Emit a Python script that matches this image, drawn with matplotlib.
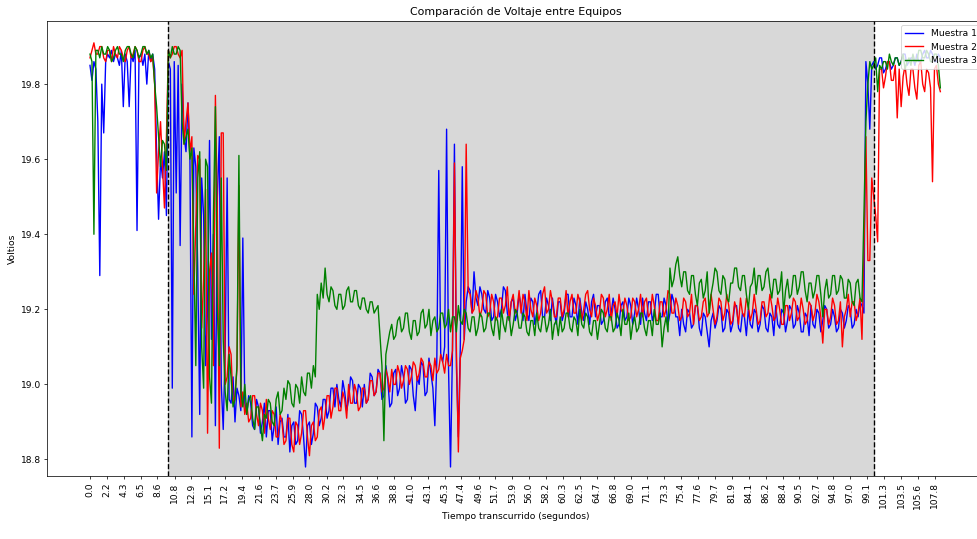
import numpy as np
from matplotlib import pyplot as plt

# muestras cada 0.25 s, una fila = 5 s
dt = 0.25

muestra1 = [
    19.85, 19.81, 19.86, 19.84, 19.70, 19.29, 19.80, 19.67, 19.86, 19.88, 19.87, 19.89, 19.86, 19.88, 19.87, 19.85, 19.89, 19.74, 19.88, 19.86,
    19.74, 19.88, 19.86, 19.89, 19.41, 19.87, 19.88, 19.85, 19.88, 19.80, 19.89, 19.86, 19.88, 19.84, 19.62, 19.44, 19.60, 19.55, 19.62, 19.45,
    19.86, 19.84, 18.99, 19.86, 19.51, 19.85, 19.37, 19.80, 19.66, 19.62, 19.75, 19.60, 18.86, 19.63, 19.58, 19.30, 18.92, 19.55, 19.45, 19.05,
    19.20, 19.65, 19.12, 19.40, 18.89, 19.50, 19.66, 19.00, 18.88, 19.10, 19.55, 18.96, 18.95, 19.02, 18.90, 18.99, 18.97, 18.93, 19.39, 18.95,
    18.92, 18.97, 18.95, 18.89, 18.88, 18.96, 18.94, 18.87, 18.90, 18.95, 18.86, 18.93, 18.93, 18.85, 18.89, 18.94, 18.84, 18.90, 18.91, 18.86,
    18.86, 18.92, 18.82, 18.89, 18.90, 18.84, 18.85, 18.93, 18.92, 18.86, 18.78, 18.89, 18.90, 18.84, 18.87, 18.95, 18.94, 18.89, 18.91, 18.96,
    18.96, 18.91, 18.93, 18.99, 18.99, 18.94, 19.00, 18.96, 18.94, 19.01, 18.98, 18.93, 18.96, 19.02, 19.01, 18.95, 18.95, 19.00, 18.99, 18.94,
    19.00, 18.95, 18.96, 19.03, 19.02, 18.97, 18.98, 19.04, 19.03, 18.96, 18.97, 19.05, 19.01, 18.94, 18.95, 19.03, 19.04, 18.97, 18.99, 19.05,
    19.02, 18.95, 18.96, 19.05, 19.04, 18.97, 18.93, 19.02, 19.00, 19.06, 19.05, 18.97, 18.98, 19.07, 19.03, 18.99, 18.89, 19.06, 19.57, 19.08,
    19.06, 19.10, 19.68, 19.04, 18.78, 19.09, 19.64, 19.05, 18.86, 19.10, 19.58, 19.12, 19.22, 19.26, 19.25, 19.19, 19.30, 19.23, 19.21, 19.26,
    19.24, 19.20, 19.19, 19.25, 19.23, 19.17, 19.18, 19.24, 19.22, 19.18, 19.20, 19.26, 19.25, 19.19, 19.17, 19.22, 19.23, 19.17, 19.19, 19.24,
    19.21, 19.17, 19.24, 19.19, 19.17, 19.23, 19.22, 19.16, 19.19, 19.24, 19.25, 19.18, 19.18, 19.23, 19.21, 19.17, 19.23, 19.19, 19.16, 19.22,
    19.22, 19.17, 19.19, 19.24, 19.24, 19.18, 19.18, 19.23, 19.21, 19.16, 19.23, 19.19, 19.17, 19.22, 19.20, 19.16, 19.22, 19.24, 19.18, 19.21,
    19.21, 19.16, 19.17, 19.22, 19.23, 19.18, 19.19, 19.23, 19.20, 19.15, 19.16, 19.21, 19.22, 19.17, 19.18, 19.23, 19.21, 19.16, 19.19, 19.23,
    19.20, 19.16, 19.23, 19.19, 19.17, 19.22, 19.22, 19.17, 19.19, 19.24, 19.24, 19.18, 19.18, 19.23, 19.21, 19.16, 19.19, 19.24, 19.22, 19.18,
    19.18, 19.13, 19.20, 19.16, 19.14, 19.20, 19.19, 19.15, 19.16, 19.21, 19.21, 19.15, 19.13, 19.19, 19.18, 19.14, 19.10, 19.17, 19.19, 19.15,
    19.17, 19.21, 19.20, 19.14, 19.15, 19.20, 19.19, 19.14, 19.16, 19.21, 19.21, 19.15, 19.14, 19.19, 19.18, 19.13, 19.20, 19.16, 19.15, 19.20,
    19.19, 19.14, 19.16, 19.21, 19.20, 19.15, 19.14, 19.19, 19.18, 19.13, 19.21, 19.16, 19.15, 19.20, 19.19, 19.14, 19.17, 19.21, 19.20, 19.15,
    19.16, 19.21, 19.19, 19.14, 19.14, 19.19, 19.18, 19.13, 19.21, 19.16, 19.15, 19.20, 19.19, 19.14, 19.17, 19.21, 19.20, 19.15, 19.16, 19.20,
    19.18, 19.14, 19.15, 19.20, 19.19, 19.15, 19.17, 19.21, 19.20, 19.15, 19.16, 19.20, 19.18, 19.22, 19.21, 19.19, 19.86, 19.80, 19.68, 19.85,
    19.86, 19.84, 19.85, 19.87, 19.87, 19.83, 19.84, 19.86, 19.86, 19.84, 19.85, 19.87, 19.87, 19.85, 19.86, 19.88, 19.88, 19.85, 19.86, 19.87,
    19.87, 19.85, 19.88, 19.86, 19.86, 19.88, 19.89, 19.87, 19.87, 19.89, 19.88, 19.86, 19.86, 19.88, 19.87,
]

muestra2 = [
    19.87, 19.89, 19.91, 19.88, 19.88, 19.90, 19.90, 19.87, 19.86, 19.89, 19.89, 19.86, 19.90, 19.88, 19.87, 19.90, 19.89, 19.87, 19.86, 19.89,
    19.90, 19.87, 19.88, 19.90, 19.89, 19.86, 19.86, 19.89, 19.90, 19.88, 19.88, 19.86, 19.87, 19.80, 19.51, 19.62, 19.70, 19.58, 19.47, 19.66,
    19.89, 19.87, 19.88, 19.90, 19.90, 19.88, 19.87, 19.89, 19.64, 19.70, 19.75, 19.62, 19.66, 19.24, 19.42, 19.61, 19.60, 19.15, 19.28, 19.52,
    18.87, 19.30, 19.35, 19.05, 19.77, 19.45, 18.83, 19.67, 19.67, 19.00, 19.02, 19.10, 19.08, 18.95, 18.97, 19.04, 19.53, 18.94, 18.98, 18.92,
    18.95, 18.90, 18.91, 18.97, 18.97, 18.92, 18.89, 18.95, 18.93, 18.87, 18.96, 18.91, 18.88, 18.93, 18.92, 18.86, 18.86, 18.92, 18.90, 18.84,
    18.85, 18.91, 18.91, 18.84, 18.82, 18.90, 18.89, 18.84, 18.87, 18.93, 18.93, 18.86, 18.81, 18.89, 18.90, 18.85, 18.86, 18.93, 18.94, 18.88,
    18.92, 18.97, 18.97, 18.91, 18.94, 18.99, 18.99, 18.93, 18.93, 18.98, 18.96, 18.91, 19.00, 18.95, 18.95, 19.00, 18.98, 18.93, 18.94, 18.99,
    18.99, 18.95, 18.96, 19.01, 19.01, 18.97, 18.98, 19.03, 19.03, 18.98, 18.99, 19.04, 19.02, 18.98, 19.04, 19.00, 19.00, 19.05, 19.03, 18.99,
    19.01, 19.05, 19.04, 19.00, 19.02, 19.06, 19.05, 19.01, 19.03, 19.07, 19.06, 19.02, 19.02, 19.06, 19.05, 19.01, 19.07, 19.03, 19.04, 19.08,
    19.06, 19.03, 19.08, 19.05, 19.05, 19.09, 19.59, 19.10, 18.82, 19.07, 19.09, 19.12, 19.64, 19.25, 19.24, 19.19, 19.20, 19.25, 19.23, 19.18,
    19.20, 19.25, 19.24, 19.18, 19.19, 19.24, 19.22, 19.17, 19.18, 19.23, 19.23, 19.19, 19.21, 19.26, 19.17, 19.22, 19.24, 19.19, 19.20, 19.25,
    19.19, 19.24, 19.22, 19.17, 19.25, 19.20, 19.18, 19.23, 19.21, 19.17, 19.19, 19.24, 19.26, 19.19, 19.20, 19.25, 19.22, 19.18, 19.18, 19.23,
    19.23, 19.18, 19.20, 19.25, 19.18, 19.22, 19.24, 19.19, 19.19, 19.24, 19.22, 19.17, 19.20, 19.24, 19.25, 19.20, 19.18, 19.23, 19.21, 19.17,
    19.19, 19.24, 19.23, 19.18, 19.20, 19.24, 19.17, 19.21, 19.22, 19.18, 19.24, 19.20, 19.19, 19.23, 19.21, 19.17, 19.18, 19.23, 19.22, 19.18,
    19.20, 19.24, 19.18, 19.22, 19.23, 19.18, 19.19, 19.24, 19.21, 19.17, 19.17, 19.22, 19.22, 19.18, 19.20, 19.25, 19.24, 19.19, 19.19, 19.23,
    19.21, 19.17, 19.18, 19.23, 19.22, 19.18, 19.19, 19.24, 19.16, 19.21, 19.21, 19.17, 19.18, 19.22, 19.23, 19.18, 19.19, 19.24, 19.20, 19.16,
    19.18, 19.23, 19.22, 19.17, 19.19, 19.24, 19.21, 19.16, 19.17, 19.22, 19.20, 19.16, 19.23, 19.19, 19.18, 19.23, 19.21, 19.17, 19.19, 19.24,
    19.20, 19.16, 19.17, 19.22, 19.22, 19.18, 19.19, 19.24, 19.21, 19.17, 19.18, 19.23, 19.20, 19.16, 19.16, 19.21, 19.21, 19.17, 19.19, 19.23,
    19.22, 19.17, 19.18, 19.23, 19.20, 19.16, 19.17, 19.22, 19.21, 19.17, 19.19, 19.24, 19.22, 19.18, 19.11, 19.20, 19.20, 19.16, 19.18, 19.23,
    19.21, 19.16, 19.17, 19.22, 19.10, 19.18, 19.20, 19.24, 19.18, 19.22, 19.22, 19.17, 19.19, 19.23, 19.12, 19.35, 19.66, 19.33, 19.33, 19.55,
    19.50, 19.45, 19.38, 19.84, 19.84, 19.79, 19.82, 19.86, 19.86, 19.81, 19.81, 19.85, 19.71, 19.84, 19.74, 19.82, 19.85, 19.80, 19.77, 19.84,
    19.84, 19.79, 19.76, 19.85, 19.86, 19.80, 19.78, 19.84, 19.83, 19.79, 19.54, 19.84, 19.85, 19.80, 19.78,
]

muestra3 = [
    19.88, 19.86, 19.40, 19.89, 19.89, 19.87, 19.90, 19.88, 19.88, 19.90, 19.89, 19.86, 19.87, 19.89, 19.90, 19.88, 19.88, 19.86, 19.89, 19.90,
    19.90, 19.88, 19.87, 19.90, 19.89, 19.87, 19.88, 19.90, 19.90, 19.88, 19.89, 19.87, 19.88, 19.80, 19.74, 19.66, 19.58, 19.65, 19.64, 19.57,
    19.89, 19.87, 19.90, 19.88, 19.88, 19.90, 19.89, 19.70, 19.64, 19.66, 19.68, 19.60, 19.63, 19.35, 19.05, 19.55, 19.62, 19.10, 18.99, 19.60,
    19.58, 19.02, 18.95, 19.45, 19.74, 19.20, 19.05, 19.55, 19.12, 18.98, 18.93, 19.08, 19.02, 18.94, 18.96, 19.05, 19.61, 18.98, 18.94, 19.00,
    18.92, 18.96, 18.97, 18.91, 18.88, 18.94, 18.94, 18.89, 18.85, 18.92, 18.91, 18.96, 18.95, 18.90, 18.89, 18.96, 18.98, 18.92, 18.93, 18.99,
    18.96, 19.01, 19.00, 18.95, 18.94, 19.00, 18.99, 18.95, 19.02, 18.98, 18.97, 19.03, 19.03, 18.99, 19.05, 19.02, 19.24, 19.20, 19.27, 19.23,
    19.31, 19.24, 19.22, 19.26, 19.25, 19.21, 19.20, 19.24, 19.24, 19.20, 19.21, 19.25, 19.26, 19.22, 19.22, 19.25, 19.25, 19.21, 19.20, 19.23,
    19.23, 19.20, 19.19, 19.22, 19.22, 19.19, 19.20, 19.21, 19.13, 19.05, 18.85, 19.08, 19.11, 19.14, 19.16, 19.12, 19.13, 19.17, 19.18, 19.14,
    19.15, 19.19, 19.19, 19.14, 19.12, 19.17, 19.17, 19.13, 19.14, 19.19, 19.20, 19.15, 19.16, 19.20, 19.13, 19.17, 19.18, 19.14, 19.15, 19.19,
    19.19, 19.15, 19.16, 19.20, 19.14, 19.18, 19.18, 19.14, 19.21, 19.17, 19.16, 19.20, 19.19, 19.15, 19.14, 19.18, 19.18, 19.13, 19.15, 19.19,
    19.18, 19.14, 19.15, 19.19, 19.19, 19.15, 19.13, 19.18, 19.17, 19.12, 19.20, 19.16, 19.14, 19.18, 19.18, 19.13, 19.16, 19.20, 19.19, 19.15,
    19.15, 19.19, 19.18, 19.14, 19.13, 19.17, 19.17, 19.13, 19.19, 19.15, 19.14, 19.18, 19.18, 19.14, 19.16, 19.20, 19.12, 19.16, 19.17, 19.13,
    19.18, 19.14, 19.15, 19.19, 19.19, 19.15, 19.14, 19.18, 19.17, 19.13, 19.20, 19.16, 19.15, 19.19, 19.18, 19.14, 19.13, 19.17, 19.17, 19.12,
    19.16, 19.20, 19.19, 19.15, 19.14, 19.18, 19.18, 19.14, 19.15, 19.19, 19.17, 19.13, 19.20, 19.16, 19.16, 19.19, 19.12, 19.16, 19.18, 19.14,
    19.15, 19.19, 19.19, 19.15, 19.13, 19.17, 19.17, 19.13, 19.20, 19.16, 19.16, 19.19, 19.10, 19.15, 19.18, 19.14, 19.31, 19.26, 19.28, 19.32,
    19.34, 19.29, 19.26, 19.30, 19.30, 19.25, 19.24, 19.29, 19.29, 19.24, 19.21, 19.27, 19.28, 19.23, 19.25, 19.30, 19.19, 19.24, 19.27, 19.31,
    19.30, 19.25, 19.24, 19.29, 19.28, 19.23, 19.22, 19.27, 19.27, 19.31, 19.31, 19.26, 19.25, 19.29, 19.29, 19.24, 19.20, 19.26, 19.27, 19.31,
    19.24, 19.29, 19.29, 19.25, 19.26, 19.30, 19.31, 19.26, 19.23, 19.28, 19.28, 19.24, 19.25, 19.30, 19.19, 19.25, 19.28, 19.23, 19.24, 19.29,
    19.29, 19.24, 19.26, 19.30, 19.30, 19.25, 19.22, 19.27, 19.27, 19.23, 19.25, 19.29, 19.29, 19.24, 19.18, 19.25, 19.28, 19.23, 19.24, 19.29,
    19.29, 19.24, 19.25, 19.29, 19.28, 19.23, 19.23, 19.28, 19.27, 19.22, 19.21, 19.27, 19.28, 19.23, 19.22, 19.45, 19.70, 19.80, 19.86, 19.84,
    19.85, 19.87, 19.78, 19.85, 19.84, 19.86, 19.86, 19.84, 19.88, 19.86, 19.85, 19.87, 19.87, 19.85, 19.86, 19.88, 19.84, 19.86, 19.87, 19.85,
    19.88, 19.86, 19.86, 19.89, 19.89, 19.87, 19.87, 19.89, 19.88, 19.86, 19.86, 19.88, 19.88, 19.85, 19.79,
]

etiquetas_x = [
    '0.0', '2.2', '4.3', '6.5', '8.6', '10.8', '12.9', '15.1', '17.2', '19.4',
    '21.6', '23.7', '25.9', '28.0', '30.2', '32.3', '34.5', '36.6', '38.8', '41.0',
    '43.1', '45.3', '47.4', '49.6', '51.7', '53.9', '56.0', '58.2', '60.3', '62.5',
    '64.7', '66.8', '69.0', '71.1', '73.3', '75.4', '77.6', '79.7', '81.9', '84.1',
    '86.2', '88.4', '90.5', '92.7', '94.8', '97.0', '99.1', '101.3', '103.5', '105.6',
    '107.8',
]

inicio_zona, fin_zona = 10.0, 100.0

tiempo = np.arange(len(muestra1)) * dt

dpi = 66
fig = plt.figure(figsize=(977 / dpi, 539 / dpi), dpi=dpi)
ax = fig.add_axes([0.0484, 0.1169, 0.9598, 0.8447])

ax.plot(tiempo, muestra1, color='blue', label='Muestra 1')
ax.plot(tiempo, muestra2, color='red', label='Muestra 2')
ax.plot(tiempo, muestra3, color='green', label='Muestra 3')

ax.axvspan(inicio_zona, fin_zona, color='gray', alpha=0.3)
ax.axvline(inicio_zona, color='black', linestyle='--')
ax.axvline(fin_zona, color='black', linestyle='--')

ax.set_xticks([float(e) for e in etiquetas_x])
ax.set_xticklabels(etiquetas_x, rotation=90)
ax.set_xlim(-5.45, 114.2)
ax.set_ylim(18.756, 19.969)

ax.set_xlabel('Tiempo transcurrido (segundos)')
ax.set_ylabel('Voltios')
ax.set_title('Comparación de Voltaje entre Equipos')
ax.legend(loc='upper right')

fig.savefig('out.png', dpi=dpi)
